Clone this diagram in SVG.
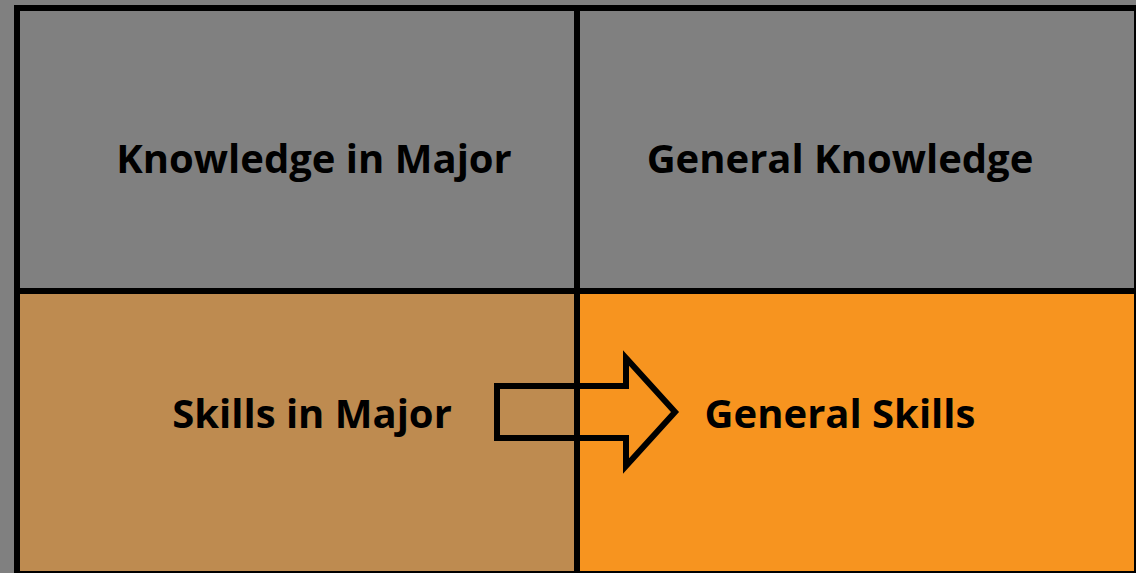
<svg xmlns="http://www.w3.org/2000/svg" width="1136" height="573" viewBox="0 0 1136 573">
<style>
.lbl{font-family:"Open Sans",Lato,"Liberation Sans",sans-serif;font-weight:bold;font-size:40px;fill:#000;text-anchor:middle}
.ln{stroke:#000;stroke-width:6;fill:none}
</style>
<rect x="0" y="0" width="1136" height="573" fill="#808080"/>
<g id="knowledge-major"><rect x="17" y="8" width="560" height="283" fill="#808080"/><text class="lbl" x="314" y="173">Knowledge in Major</text></g>
<g id="general-knowledge"><rect x="577" y="8" width="560" height="283" fill="#808080"/><text class="lbl" x="840" y="173">General Knowledge</text></g>
<g id="skills-major"><rect x="17" y="291" width="560" height="283" fill="#BE8B50"/><text class="lbl" x="312" y="428">Skills in Major</text></g>
<g id="general-skills"><rect x="577" y="291" width="560" height="283" fill="#F7941F"/><text class="lbl" x="840" y="428">General Skills</text></g>
<g id="connectors">
<rect class="ln" x="17" y="8" width="1120" height="566"/>
<line class="ln" x1="577" y1="8" x2="577" y2="574"/>
<line class="ln" x1="17" y1="291" x2="1137" y2="291"/>
<polygon class="ln" points="497,386 626,386 626,358 675,412 626,466 626,438 497,438"/>
</g>
</svg>
